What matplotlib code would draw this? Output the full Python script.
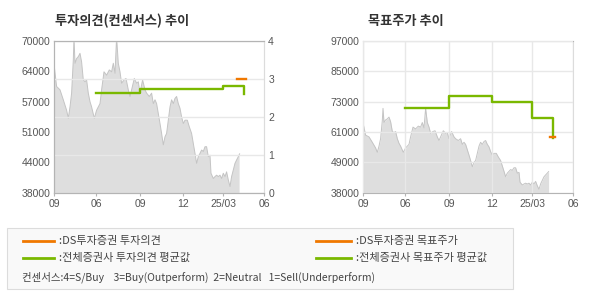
import matplotlib
matplotlib.use("Agg")
import matplotlib.pyplot as plt
from matplotlib.lines import Line2D
from matplotlib.patches import Rectangle

plt.rcParams['font.family'] = ['Noto Sans CJK KR', 'DejaVu Sans']

# ---------------- data ----------------
x_ticks = [0, 42, 86, 129, 169, 210]
x_labels = ['09', '06', '09', '12', '25/03', '06']

price_x = [0, 2.3, 5.7, 9, 12.3, 14, 15.7, 17.3, 19, 19.7, 20.7, 22.3, 24, 25.7, 27.3, 29,
           30.7, 32.3, 34, 35.7, 37.3, 40, 42.3, 45.7, 47.3, 49.7, 52.3, 55, 57.3, 59, 60.7,
           62.3, 64, 65.7, 67.3, 69.7, 71.7, 74, 75.7, 77.3, 80, 82.3, 84, 85.7, 88.3, 90.7,
           92.3, 95, 97.3, 99, 100.7, 102.3, 104, 105.7, 107.3, 109, 110.7, 112.3, 114, 115.7,
           117.3, 119, 120.7, 122.3, 124, 125.7, 127.3, 129, 130.7, 133, 135, 137.3, 139,
           140.7, 142.3, 144, 145.7, 147.3, 149, 150.7, 152.3, 154, 155.7, 156.7, 159, 160.7,
           162.3, 164, 165.7, 167.3, 169, 170.7, 172.3, 174, 175.7, 177.3, 179, 180.7, 182.3,
           184, 185.3]
price = [64600, 60400, 59700, 57600, 55400, 53700, 56100, 59000, 66000, 70800, 65300, 66300,
         66700, 67400, 65600, 61800, 61400, 61800, 59000, 57200, 56100, 53700, 55400, 56800,
         59700, 63500, 62800, 63900, 63500, 65300, 63200, 70800, 65300, 63500, 61100, 61800,
         62100, 59700, 58300, 59700, 62100, 61100, 61400, 59000, 61800, 59700, 59000, 58300,
         59000, 56800, 57600, 56800, 54700, 52600, 50500, 48100, 49800, 50500, 53300, 56100,
         57600, 56800, 57900, 58300, 56800, 55800, 54000, 52600, 53300, 53300, 51900, 50500,
         48400, 46300, 44200, 45600, 46300, 47000, 46700, 47700, 47700, 45600, 45900, 42100,
         41000, 41400, 41700, 41400, 41700, 41000, 42100, 41400, 42400, 40700, 39300, 41400,
         42800, 44200, 44900, 45600, 46200]

# consensus opinion (right axis of left chart)
opin_avg_x = [42, 86, 169, 190]
opin_avg = [2.64, 2.74, 2.82, 2.61]
opin_ds_x = [183, 192]
opin_ds = [3.0, 3.0]

# target price
tp_avg_x = [42, 86, 129, 169, 190]
tp_avg = [71000, 75600, 73400, 67200, 59300]
tp_ds_x = [187, 192]
tp_ds = [59800, 59800]

left_yticks = [38000, 44400, 50800, 57200, 63600, 70000]
left_ylabels = ['38000', '44000', '51000', '57000', '64000', '70000']
right_yticks = [38000, 49800, 61600, 73400, 85200, 97000]
right_ylabels = ['38000', '49000', '61000', '73000', '85000', '97000']
opin_ticks = [0, 1, 2, 3, 4]

# ---------------- style ----------------
GREEN = '#7ab800'
ORANGE = '#f07800'
FILL = '#dedede'
EDGE = '#c4c4c4'
GRID = '#e8e8e8'
SPINE = '#b4b4b4'
SPINE_LIGHT = '#dcdcdc'
TICKC = '#555555'
W, H = 590, 300

fig = plt.figure(figsize=(W / 100, H / 100), dpi=100)


def px_axes(x0, y0, x1, y1):
    return fig.add_axes([x0 / W, 1 - y1 / H, (x1 - x0) / W, (y1 - y0) / H])


def style(ax):
    for name, s in ax.spines.items():
        s.set_color(SPINE_LIGHT if name == 'right' else SPINE)
        s.set_linewidth(0.8)
    ax.tick_params(axis='y', length=0, pad=2.8, labelcolor=TICKC, labelsize=7.5)
    ax.tick_params(axis='x', length=2.5, width=0.8, color=SPINE, pad=1.8,
                   labelcolor=TICKC, labelsize=7.5)
    for lab in ax.get_xticklabels() + ax.get_yticklabels():
        lab.set_fontfamily('Liberation Sans')


# ---- left chart ----
ax1 = px_axes(54.3, 41, 264.3, 192.7)
ax1.fill_between(price_x, price, 0, color=FILL, lw=0, zorder=1)
ax1.plot(price_x, price, color=EDGE, lw=0.7, zorder=1.2)
ax1.set_xlim(0, 210)
ax1.set_ylim(38000, 70000)
ax1.set_xticks(x_ticks)
ax1.set_xticklabels(x_labels)
ax1.set_yticks(left_yticks)
ax1.set_yticklabels(left_ylabels)
ax1.grid(False)

ax1r = ax1.twinx()
ax1r.set_ylim(0, 4)
ax1r.set_yticks(opin_ticks)
ax1r.grid(True, color=GRID, lw=1)
ax1r.plot(opin_avg_x, opin_avg, color=GREEN, lw=1.7, drawstyle='steps-post', zorder=3)
ax1r.plot(opin_ds_x, opin_ds, color=ORANGE, lw=1.7, zorder=3)
style(ax1)
style(ax1r)

fig.text(55 / W, 1 - 20.7 / H, '투자의견(컨센서스) 추이', fontsize=9.5, fontweight='bold',
         color='#333333', va='center', ha='left')

# ---- right chart ----
ax2 = px_axes(363.3, 41, 573.3, 192.7)
ax2.set_axisbelow(False)
ax2.fill_between(price_x, price, 0, color=FILL, lw=0, zorder=1)
ax2.plot(price_x, price, color=EDGE, lw=0.7, zorder=1.2)
ax2.grid(True, color=GRID, lw=1)
ax2.plot(tp_avg_x, tp_avg, color=GREEN, lw=1.7, drawstyle='steps-post', zorder=3)
ax2.plot(tp_ds_x, tp_ds, color=ORANGE, lw=1.7, zorder=3.1)
ax2.set_xlim(0, 210)
ax2.set_ylim(38000, 97000)
ax2.set_xticks(x_ticks)
ax2.set_xticklabels(x_labels)
ax2.set_yticks(right_yticks)
ax2.set_yticklabels(right_ylabels)
style(ax2)

fig.text(367.7 / W, 1 - 20.7 / H, '목표주가 추이', fontsize=9.5, fontweight='bold',
         color='#333333', va='center', ha='left')

# ---- legend box ----
fig.patches.append(Rectangle((7.3 / W, 1 - 289.3 / H), 506 / W, 61 / H,
                             transform=fig.transFigure, facecolor='#f9f9f9',
                             edgecolor='#dcdcdc', lw=0.8))


def leg_item(x0, x1, y, color, text):
    fig.lines.append(Line2D([x0 / W, x1 / W], [1 - y / H, 1 - y / H], transform=fig.transFigure,
                            color=color, lw=2))
    fig.text((x1 + 5.3) / W, 1 - y / H, text, fontsize=8, color='#444444', va='center',
             ha='left')


leg_item(22.7, 54, 240.7, ORANGE, ':DS투자증권 투자의견')
leg_item(22.7, 54, 258.3, GREEN, ':전체증권사 투자의견 평균값')
leg_item(316, 350.7, 240.7, ORANGE, ':DS투자증권 목표주가')
leg_item(316, 350.7, 258.3, GREEN, ':전체증권사 목표주가 평균값')
fig.text(21.7 / W, 1 - 277.3 / H,
         '컨센서스:4=S/Buy    3=Buy(Outperform)  2=Neutral   1=Sell(Underperform)',
         fontsize=7.5, color='#444444', va='center', ha='left')

fig.savefig('out.png', dpi=100)
